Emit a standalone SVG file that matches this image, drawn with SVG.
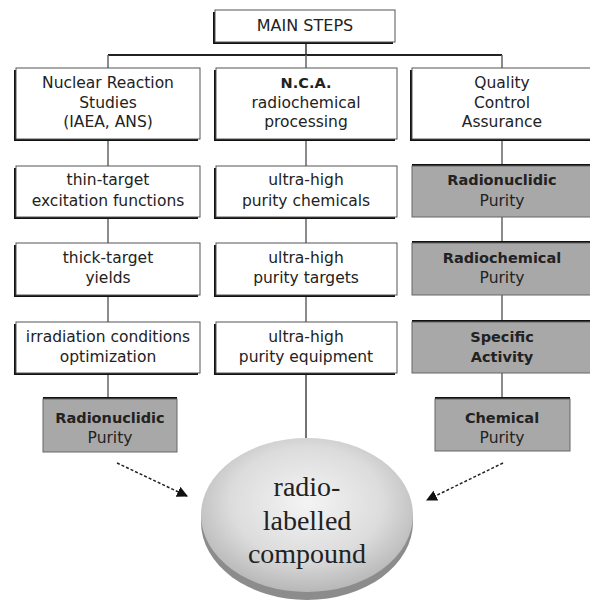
<svg xmlns="http://www.w3.org/2000/svg" width="590" height="610" viewBox="0 0 590 610">
<defs>
<radialGradient id="disk" cx="0.5" cy="0.42" r="0.6">
<stop offset="0" stop-color="#f4f4f4"/>
<stop offset="0.6" stop-color="#dcdcdc"/>
<stop offset="1" stop-color="#b4b4b4"/>
</radialGradient>
<marker id="ah" viewBox="0 0 10 10" refX="9" refY="5" markerWidth="9" markerHeight="9" markerUnits="userSpaceOnUse" orient="auto">
<path d="M0,0 L10,5 L0,10 z" fill="#111"/>
</marker>
<marker id="ah2" viewBox="0 0 10 10" refX="9" refY="5" markerWidth="11" markerHeight="11" markerUnits="userSpaceOnUse" orient="auto">
<path d="M0,0 L10,5 L0,10 z" fill="#111"/>
</marker>
</defs>
<style>
.sh{fill:#111}
.bx{fill:#fff;stroke:#555;stroke-width:1}
.gb{fill:#a8a8a8;stroke:#666;stroke-width:1}
.t{font-family:"DejaVu Sans",sans-serif;font-size:15.5px;fill:#222;text-anchor:middle}
.b{font-family:"DejaVu Sans",sans-serif;font-size:14.5px;font-weight:bold;fill:#222;text-anchor:middle}
.c{fill:none;stroke:#666;stroke-width:1.5}
.d{fill:none;stroke:#222;stroke-width:1.5;stroke-dasharray:3 2}
.s{font-family:"Liberation Serif",serif;font-size:28px;fill:#222;text-anchor:middle}
</style>
<rect width="590" height="610" fill="#fff"/>
<g id="connectors">
<path class="c" d="M306,42 V55" style="stroke:#333"/>
<path d="M108,55 H502" fill="none" stroke="#222" stroke-width="2"/>
<path class="c" d="M108,55 V68 M306,55 V68 M502,55 V68"/>
<path class="c" d="M108,139 V166 M108,217 V243 M108,295 V322 M108,373 V399"/>
<path class="c" d="M306,139 V166 M306,217 V243 M306,295 V322"/>
<path class="c" d="M502,139 V166 M502,217 V243 M502,295 V322 M502,373 V399"/>
<path d="M306,373 V453" fill="none" stroke="#444" stroke-width="1.5" marker-end="url(#ah)"/>
<path class="d" d="M117,463 L187,496" marker-end="url(#ah2)"/>
<path class="d" d="M503,463 L427,500" marker-end="url(#ah2)"/>
</g>
<g id="main">
<rect class="sh" x="213" y="12" width="180" height="32"/>
<rect class="bx" x="215" y="10" width="180" height="32"/>
<text class="t" x="305" y="31" style="font-size:16px">MAIN STEPS</text>
</g>
<g id="nuclear">
<rect class="sh" x="14" y="70" width="184" height="71"/>
<rect class="bx" x="16" y="68" width="184" height="71"/>
<text class="t" x="108" y="88">Nuclear Reaction</text>
<text class="t" x="108" y="108">Studies</text>
<text class="t" x="108" y="127">(IAEA, ANS)</text>
</g>
<g id="nca">
<rect class="sh" x="214" y="70" width="181" height="71"/>
<rect class="bx" x="216" y="68" width="181" height="71"/>
<text class="b" x="306" y="88">N.C.A.</text>
<text class="t" x="306" y="108">radiochemical</text>
<text class="t" x="306" y="127">processing</text>
</g>
<g id="quality">
<rect class="sh" x="410" y="70" width="180" height="71"/>
<rect class="bx" x="412" y="68" width="180" height="71"/>
<text class="t" x="502" y="88">Quality</text>
<text class="t" x="502" y="108">Control</text>
<text class="t" x="502" y="127">Assurance</text>
</g>
<g id="thin">
<rect class="sh" x="14" y="168" width="184" height="51"/>
<rect class="bx" x="16" y="166" width="184" height="51"/>
<text class="t" x="108" y="185">thin-target</text>
<text class="t" x="108" y="206">excitation functions</text>
</g>
<g id="thick">
<rect class="sh" x="14" y="245" width="184" height="52"/>
<rect class="bx" x="16" y="243" width="184" height="52"/>
<text class="t" x="108" y="263">thick-target</text>
<text class="t" x="108" y="283">yields</text>
</g>
<g id="irradiation">
<rect class="sh" x="14" y="324" width="184" height="51"/>
<rect class="bx" x="16" y="322" width="184" height="51"/>
<text class="t" x="108" y="342">irradiation conditions</text>
<text class="t" x="108" y="362">optimization</text>
</g>
<g id="chemicals">
<rect class="sh" x="214" y="168" width="181" height="51"/>
<rect class="bx" x="216" y="166" width="181" height="51"/>
<text class="t" x="306" y="185">ultra-high</text>
<text class="t" x="306" y="206">purity chemicals</text>
</g>
<g id="targets">
<rect class="sh" x="214" y="245" width="181" height="52"/>
<rect class="bx" x="216" y="243" width="181" height="52"/>
<text class="t" x="306" y="263">ultra-high</text>
<text class="t" x="306" y="283">purity targets</text>
</g>
<g id="equipment">
<rect class="sh" x="214" y="324" width="181" height="51"/>
<rect class="bx" x="216" y="322" width="181" height="51"/>
<text class="t" x="306" y="342">ultra-high</text>
<text class="t" x="306" y="362">purity equipment</text>
</g>
<g id="qc-radionuclidic">
<rect class="sh" x="412" y="164" width="180" height="20"/>
<rect class="gb" x="412" y="166" width="180" height="51"/>
<text class="b" x="502" y="185">Radionuclidic</text>
<text class="t" x="502" y="206">Purity</text>
</g>
<g id="qc-radiochemical">
<rect class="sh" x="412" y="241" width="180" height="20"/>
<rect class="gb" x="412" y="243" width="180" height="52"/>
<text class="b" x="502" y="263">Radiochemical</text>
<text class="t" x="502" y="283">Purity</text>
</g>
<g id="qc-specific">
<rect class="sh" x="412" y="320" width="180" height="20"/>
<rect class="gb" x="412" y="322" width="180" height="51"/>
<text class="b" x="502" y="342">Specific</text>
<text class="b" x="502" y="362">Activity</text>
</g>
<g id="radionuclidic-purity">
<rect class="sh" x="43" y="397" width="134" height="20"/>
<rect class="gb" x="43" y="399" width="134" height="53"/>
<text class="b" x="110" y="423">Radionuclidic</text>
<text class="t" x="110" y="443">Purity</text>
</g>
<g id="chemical-purity">
<rect class="sh" x="435" y="397" width="135" height="20"/>
<rect class="gb" x="435" y="399" width="135" height="52"/>
<text class="b" x="502" y="423">Chemical</text>
<text class="t" x="502" y="443">Purity</text>
</g>
<g id="compound">
<ellipse cx="307" cy="522" rx="106" ry="78" fill="#8c8c8c"/>
<ellipse cx="307" cy="515" rx="106" ry="77" fill="url(#disk)"/>
<text class="s" x="307" y="496">radio-</text>
<text class="s" x="307" y="530">labelled</text>
<text class="s" x="307" y="563">compound</text>
</g>
</svg>
